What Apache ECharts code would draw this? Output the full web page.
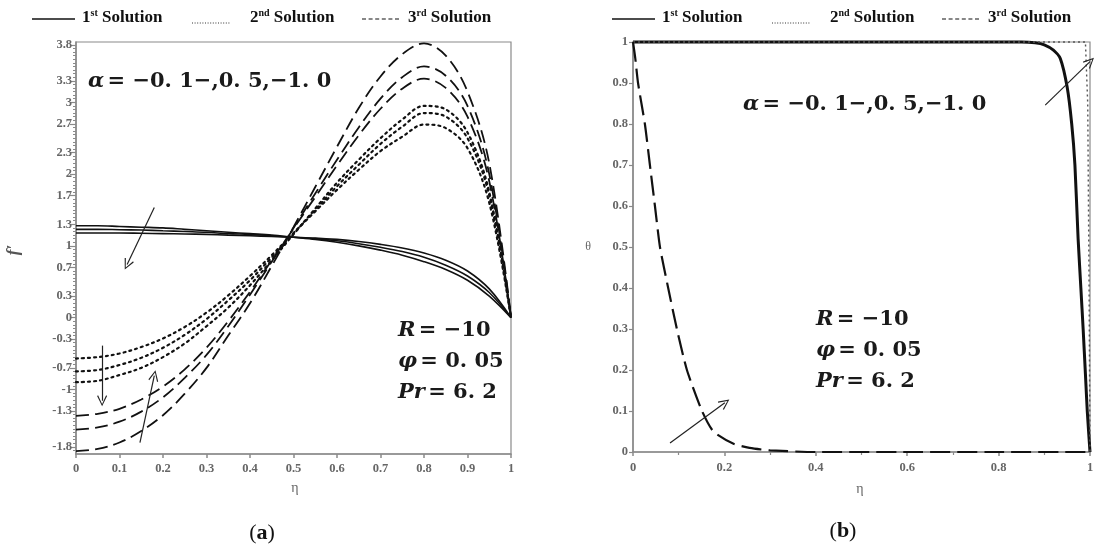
<!DOCTYPE html>
<html>
<head>
<meta charset="utf-8">
<script src="https://cdn.jsdelivr.net/npm/echarts@6/dist/echarts.min.js"></script>
<style>
  html, body { margin: 0; padding: 0; background: #fff; }
  #chart { width: 1100px; height: 548px; }
</style>
</head>
<body>
<div id="chart"></div>
<script>
/* (a) f'(η) : η grid shared by every curve */
const etaA = [0, 0.05, 0.1, 0.15, 0.2, 0.25, 0.3, 0.35, 0.4, 0.45, 0.5,
  0.55, 0.6, 0.65, 0.7, 0.75, 0.8, 0.85, 0.9, 0.95, 1];

/* 1st solution (solid) */
const firstA1 = [1.28, 1.28, 1.27, 1.26, 1.25, 1.23, 1.21, 1.19, 1.17, 1.15, 1.12,
  1.09, 1.05, 1.0, 0.94, 0.87, 0.78, 0.67, 0.52, 0.3, 0];
const firstA2 = [1.23, 1.23, 1.225, 1.22, 1.21, 1.2, 1.19, 1.17, 1.16, 1.14, 1.12,
  1.1, 1.07, 1.03, 0.98, 0.92, 0.84, 0.73, 0.58, 0.35, 0];
const firstA3 = [1.18, 1.18, 1.18, 1.175, 1.17, 1.165, 1.16, 1.15, 1.14, 1.13, 1.12,
  1.11, 1.09, 1.06, 1.02, 0.97, 0.9, 0.8, 0.65, 0.4, 0];

/* 2nd solution (dotted) */
const secondA1 = [-0.9, -0.88, -0.8, -0.7, -0.55, -0.36, -0.12, 0.14, 0.45, 0.8, 1.16,
  1.52, 1.88, 2.2, 2.5, 2.76, 2.95, 2.9, 2.58, 1.75, 0];
const secondA2 = [-0.75, -0.73, -0.66, -0.56, -0.42, -0.24, -0.02, 0.24, 0.52, 0.84, 1.17,
  1.5, 1.83, 2.13, 2.42, 2.66, 2.85, 2.8, 2.5, 1.7, 0];
const secondA3 = [-0.57, -0.55, -0.5, -0.41, -0.29, -0.13, 0.07, 0.31, 0.58, 0.87, 1.18,
  1.48, 1.78, 2.06, 2.32, 2.52, 2.69, 2.64, 2.36, 1.6, 0];

/* 3rd solution (dashed) */
const thirdA1 = [-1.86, -1.83, -1.74, -1.58, -1.36, -1.06, -0.7, -0.25, 0.2, 0.72, 1.26,
  1.82, 2.38, 2.92, 3.36, 3.67, 3.82, 3.65, 3.15, 2.15, 0];
const thirdA2 = [-1.56, -1.53, -1.45, -1.31, -1.11, -0.84, -0.52, -0.12, 0.32, 0.78, 1.25,
  1.73, 2.2, 2.65, 3.05, 3.35, 3.5, 3.37, 2.95, 2.0, 0];
const thirdA3 = [-1.37, -1.34, -1.27, -1.14, -0.96, -0.72, -0.42, -0.05, 0.36, 0.8, 1.24,
  1.68, 2.12, 2.54, 2.91, 3.19, 3.33, 3.2, 2.8, 1.9, 0];

/* (b) θ(η) */
const firstBEta = [0, 0.3, 0.6, 0.85, 0.88, 0.9, 0.92, 0.935, 0.95, 0.96, 0.967, 0.974, 0.98, 0.985, 0.99, 0.994, 1];
const firstBTheta = [1, 1, 1, 1, 0.998, 0.993, 0.98, 0.96, 0.89, 0.8, 0.7, 0.52, 0.4, 0.3, 0.19, 0.1, 0];
const secondBEta = [0, 0.5, 0.99, 0.995, 0.998, 1];
const secondBTheta = [1, 1, 1, 0.85, 0.4, 0];
const thirdBEta = [0, 0.005, 0.011, 0.026, 0.037, 0.048, 0.059, 0.077, 0.096, 0.118, 0.151, 0.176, 0.22, 0.255, 0.3, 0.4, 0.6, 0.8, 1];
const thirdBTheta = [1, 0.96, 0.9, 0.8, 0.7, 0.6, 0.5, 0.4, 0.3, 0.2, 0.1, 0.05, 0.02, 0.01, 0.004, 0, 0, 0, 0];

/* tick labels */
const leftYLabels = [-1.8, -1.3, -1, -0.7, -0.3, 0, 0.3, 0.7, 1, 1.3, 1.7, 2, 2.3, 2.7, 3, 3.3, 3.8];
const leftYMin = -1.9;
const leftYMax = 3.84;

/* annotation arrows [η0, v0, η1, v1], head at the second point */
const leftArrows = [
  [0.180, 1.534, 0.1175, 0.739],
  [0.06, -0.39, 0.06, -1.158],
  [0.147, -1.743, 0.18, -0.809],
];
const rightArrows = [
  [0.081, 0.022, 0.201, 0.12],
  [0.902, 0.846, 1.0, 0.952],
];

const pairs = (xs, ys) => xs.map((x, i) => [x, ys[i]]);

const minorTicks = [];
for (let v = -1.85; v <= leftYMax + 1e-9; v += 0.05) minorTicks.push(Math.round(v * 100) / 100);

const INK = '#111';
const AXIS_GREY = '#8a8a8a';
const LABEL_FONT = 'Liberation Serif';
const ARROW_HEAD = 'path://M-5,9 L0,0 L5,9 L4,9.6 L0,2 L-4,9.6 Z';

const labelStyle = {
  color: '#666', fontFamily: LABEL_FONT, fontSize: 12.5, fontWeight: 'bold', margin: 5,
};

function arrowMark(list) {
  return {
    silent: true,
    symbol: ['none', ARROW_HEAD],
    symbolSize: [10, 11],
    label: { show: false },
    lineStyle: { color: '#222', width: 1.2, type: 'solid' },
    data: list.map((a) => [{ coord: [a[0], a[1]] }, { coord: [a[2], a[3]] }]),
  };
}

function curve(name, data, xi, type, width, extra) {
  return Object.assign({
    name,
    type: 'line',
    xAxisIndex: xi,
    yAxisIndex: xi === 0 ? 0 : 2,
    data,
    showSymbol: false,
    smooth: 0.35,
    clip: false,
    lineStyle: { color: INK, width, type },
  }, extra || {});
}

const chart = echarts.init(document.getElementById('chart'), null, { renderer: 'canvas' });

const dotted = [2, 4];
const dashedA = [13, 6];
const dashedB = [20, 7];

const legendRich = {
  b: { fontFamily: LABEL_FONT, fontWeight: 'bold', fontSize: 17, fill: '#111', lineHeight: 20 },
  s: { fontFamily: LABEL_FONT, fontWeight: 'bold', fontSize: 10, fill: '#111', verticalAlign: 'top', lineHeight: 20, padding: [0, 0, 8, 0] },
};

const legendGraphic = (x0) => ({
  type: 'group',
  x: x0,
  y: 18,
  children: [
    { type: 'line', shape: { x1: 0, y1: 1, x2: 43, y2: 1 }, style: { stroke: '#111', lineWidth: 1.4 } },
    { type: 'text', x: 50, y: 0, style: { text: '{b|1}{s|st}{b| Solution}', verticalAlign: 'middle', rich: legendRich } },
    { type: 'line', shape: { x1: 160, y1: 5, x2: 198, y2: 5 }, style: { stroke: '#333', lineWidth: 1, lineDash: [1, 1.6] } },
    { type: 'text', x: 218, y: 0, style: { text: '{b|2}{s|nd}{b| Solution}', verticalAlign: 'middle', rich: legendRich } },
    { type: 'line', shape: { x1: 330, y1: 1, x2: 368, y2: 1 }, style: { stroke: '#111', lineWidth: 1.2, lineDash: [4, 2.6] } },
    { type: 'text', x: 376, y: 0, style: { text: '{b|3}{s|rd}{b| Solution}', verticalAlign: 'middle', rich: legendRich } },
  ],
});

const mathRich = {
  i: { fontFamily: 'DejaVu Serif', fontStyle: 'italic', fontWeight: 'bold', fontSize: 21, fill: '#1a1a1a' },
  b: { fontFamily: 'DejaVu Serif', fontWeight: 'bold', fontSize: 21, fill: '#1a1a1a' },
};

const mathText = (x, y, text) => ({
  type: 'text', x, y,
  style: { text, rich: mathRich, verticalAlign: 'middle' },
});

const paramBlock = (x, y) => [
  mathText(x, y, '{i|R} {b|= −10}'),
  mathText(x, y + 31, '{i|φ} {b|= 0. 05}'),
  mathText(x, y + 62, '{i|Pr} {b|= 6. 2}'),
];

chart.setOption({
  animation: false,
  backgroundColor: '#fff',
  grid: [
    { left: 76, right: 589, top: 42, bottom: 94, show: true, borderColor: AXIS_GREY, borderWidth: 1.2 },
    { left: 633, right: 10, top: 42, bottom: 96, show: true, borderColor: AXIS_GREY, borderWidth: 1.2 },
  ],
  xAxis: [
    {
      gridIndex: 0, type: 'value', min: 0, max: 1, interval: 0.1,
      axisLine: { onZero: false, lineStyle: { color: AXIS_GREY, width: 1.5 } },
      axisTick: { length: 4, lineStyle: { color: AXIS_GREY, width: 1.5 } },
      axisLabel: Object.assign({}, labelStyle, { margin: 8 }),
      splitLine: { show: false },
    },
    {
      gridIndex: 1, type: 'value', min: 0, max: 1, interval: 0.2,
      axisLine: { onZero: false, lineStyle: { color: AXIS_GREY, width: 1.5 } },
      axisTick: { length: 4, lineStyle: { color: AXIS_GREY, width: 1.5 } },
      minorTick: { show: true, splitNumber: 2, length: 3, lineStyle: { color: AXIS_GREY, width: 1.2 } },
      axisLabel: Object.assign({}, labelStyle, { margin: 9 }),
      splitLine: { show: false },
    },
  ],
  yAxis: [
    {
      gridIndex: 0, type: 'value', min: leftYMin, max: leftYMax,
      axisLine: { show: true, onZero: false, lineStyle: { color: AXIS_GREY, width: 1.5 } },
      axisTick: { show: true, length: 6, customValues: leftYLabels, lineStyle: { color: AXIS_GREY, width: 1.2 } },
      axisLabel: Object.assign({}, labelStyle, { customValues: leftYLabels, margin: 4 }),
      splitLine: { show: false },
    },
    {
      gridIndex: 0, type: 'value', min: leftYMin, max: leftYMax, position: 'left',
      axisLine: { show: false },
      axisTick: { show: true, length: 3, customValues: minorTicks, lineStyle: { color: AXIS_GREY, width: 1 } },
      axisLabel: { show: false },
      splitLine: { show: false },
    },
    {
      gridIndex: 1, type: 'value', min: 0, max: 1, interval: 0.1,
      axisLine: { show: true, onZero: false, lineStyle: { color: AXIS_GREY, width: 1.5 } },
      axisTick: { show: true, length: 4, lineStyle: { color: AXIS_GREY, width: 1.2 } },
      axisLabel: Object.assign({}, labelStyle, { margin: 5 }),
      splitLine: { show: false },
    },
  ],
  series: [
    curve('1st a', pairs(etaA, firstA1), 0, 'solid', 1.6, { markLine: arrowMark(leftArrows) }),
    curve('1st b', pairs(etaA, firstA2), 0, 'solid', 1.6),
    curve('1st c', pairs(etaA, firstA3), 0, 'solid', 1.6),
    curve('2nd a', pairs(etaA, secondA1), 0, dotted, 2.2, { lineStyle: { color: INK, width: 2.2, type: dotted, cap: 'round' } }),
    curve('2nd b', pairs(etaA, secondA2), 0, dotted, 2.2, { lineStyle: { color: INK, width: 2.2, type: dotted, cap: 'round' } }),
    curve('2nd c', pairs(etaA, secondA3), 0, dotted, 2.2, { lineStyle: { color: INK, width: 2.2, type: dotted, cap: 'round' } }),
    curve('3rd a', pairs(etaA, thirdA1), 0, dashedA, 1.8),
    curve('3rd b', pairs(etaA, thirdA2), 0, dashedA, 1.8),
    curve('3rd c', pairs(etaA, thirdA3), 0, dashedA, 1.8),

    curve('θ 1st', pairs(firstBEta, firstBTheta), 1, 'solid', 3, { smooth: 0.2, markLine: arrowMark(rightArrows) }),
    curve('θ 2nd', pairs(secondBEta, secondBTheta), 1, dotted, 1.8, { smooth: false, lineStyle: { color: '#555', width: 1.4, type: [2, 3] } }),
    curve('θ 3rd', pairs(thirdBEta, thirdBTheta), 1, dashedB, 2.2, { smooth: 0.2 }),
  ],
  graphic: [
    legendGraphic(32),
    legendGraphic(612),
    mathText(88, 82, '{i|α} {b|= −0. 1−,0. 5,−1. 0}'),
    mathText(743, 105, '{i|α} {b|= −0. 1−,0. 5,−1. 0}'),
    ...paramBlock(398, 331),
    ...paramBlock(816, 320),
    {
      type: 'text', x: 14, y: 250, rotation: Math.PI / 2,
      style: { text: 'f′', fontFamily: LABEL_FONT, fontStyle: 'italic', fontWeight: 'bold', fontSize: 17, fill: '#555', align: 'center', verticalAlign: 'middle' },
    },
    {
      type: 'text', x: 588, y: 247,
      style: { text: 'θ', fontFamily: LABEL_FONT, fontSize: 12, fill: '#666', align: 'center', verticalAlign: 'middle' },
    },
    {
      type: 'text', x: 295, y: 488,
      style: { text: 'η', fontFamily: LABEL_FONT, fontSize: 14, fill: '#666', align: 'center', verticalAlign: 'middle' },
    },
    {
      type: 'text', x: 860, y: 489,
      style: { text: 'η', fontFamily: LABEL_FONT, fontSize: 14, fill: '#666', align: 'center', verticalAlign: 'middle' },
    },
    {
      type: 'text', x: 262, y: 533,
      style: {
        text: '{p|(}{b|a}{p|)}', align: 'center', verticalAlign: 'middle',
        rich: {
          p: { fontFamily: LABEL_FONT, fontSize: 22, fill: '#111' },
          b: { fontFamily: LABEL_FONT, fontSize: 22, fontWeight: 'bold', fill: '#111' },
        },
      },
    },
    {
      type: 'text', x: 843, y: 531,
      style: {
        text: '{p|(}{b|b}{p|)}', align: 'center', verticalAlign: 'middle',
        rich: {
          p: { fontFamily: LABEL_FONT, fontSize: 22, fill: '#111' },
          b: { fontFamily: LABEL_FONT, fontSize: 22, fontWeight: 'bold', fill: '#111' },
        },
      },
    },
  ],
});
</script>
</body>
</html>
